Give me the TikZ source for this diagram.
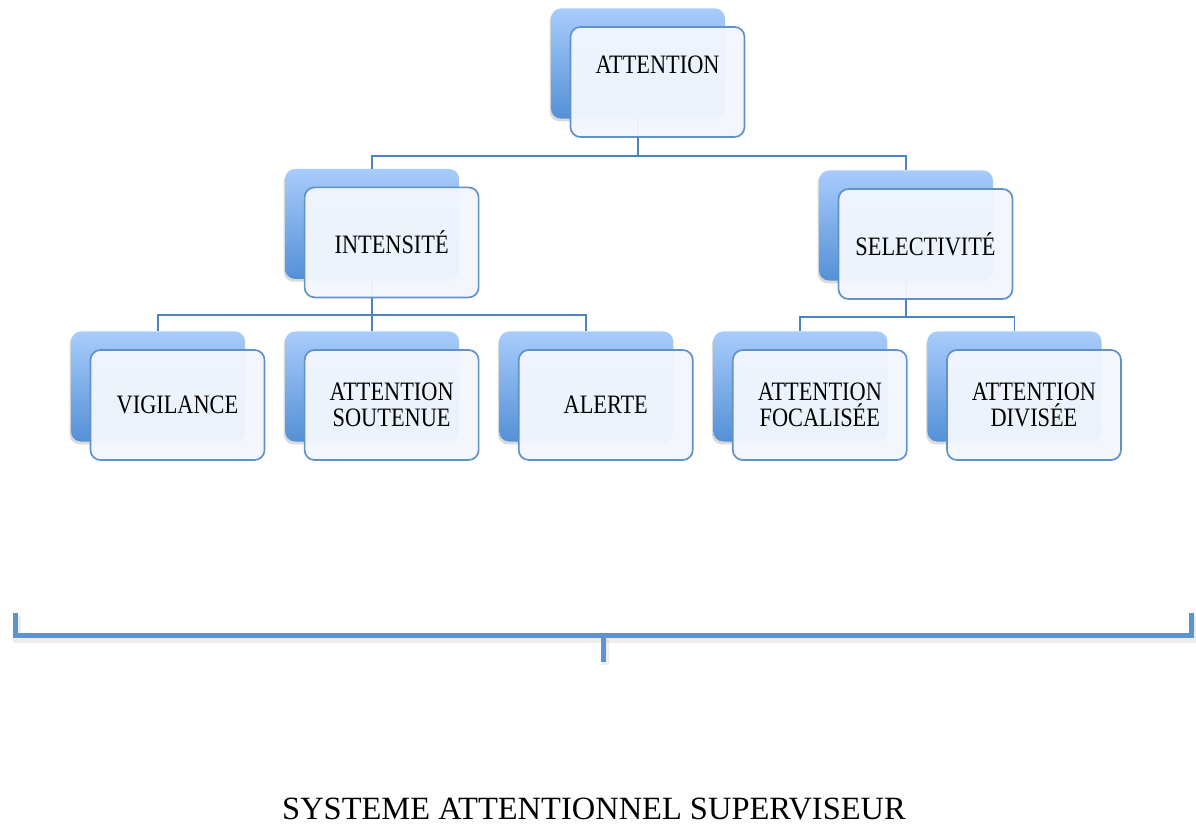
\documentclass[tikz,border=0pt]{standalone}
\usepackage{fontspec}
\setmainfont{Liberation Serif}
\newfontfamily\boxfont[FakeStretch=0.84]{Liberation Serif}
\usepackage{tikz}
\usetikzlibrary{positioning, shadows, calc}
\definecolor{bkTop}{RGB}{168,204,251}
\definecolor{bkBot}{RGB}{84,144,215}
\definecolor{frFill}{RGB}{242,246,253}
\definecolor{frLine}{RGB}{96,145,202}
\definecolor{cnLine}{RGB}{79,129,189}
\definecolor{brLine}{RGB}{95,147,207}
\tikzstyle{bk}=[%
      rectangle, rounded corners=0.25cm, draw=none, top color=bkTop, bottom color=bkBot,
      drop shadow={shadow xshift=-1pt, shadow yshift=-2pt, opacity=0.3},
      minimum width=4.35cm, minimum height=2.75cm, inner sep=0pt
]
\tikzstyle{fr}=[%
      rectangle, rounded corners=0.25cm, draw=frLine, line width=1.2pt, fill=frFill, fill opacity=0.96, text opacity=1,
      minimum width=4.35cm, minimum height=2.75cm, inner sep=0pt, align=center,
      font=\boxfont\fontsize{18.9}{18.2}\selectfont
]
\tikzstyle{cn}=[%
      draw=cnLine, line width=1.4pt
]
\tikzstyle{br}=[%
      draw=brLine, line width=3.5pt, line cap=butt, line join=miter
]

\begin{document}
\begin{tikzpicture}[x=0.025cm, y=-0.025cm, node distance=0.9875cm]
    \useasboundingbox (0,0) rectangle (1196,826);

    % back boxes
    \node[bk] (vigB) at (158,386.5) {};
    \node[bk] (souB) [right = of vigB] {};
    \node[bk] (aleB) [right = of souB] {};
    \node[bk] (focB) [right = of aleB] {};
    \node[bk] (divB) [right = of focB] {};
    \node[bk] (intB) [above = 1.3cm of souB] {};
    \node[bk] (selB) at (906,225.5) {};
    \node[bk] (attB) at (638,63.5) {};

    % connectors
    \draw[cn] (attB.south) -- ++(0,37) -| (intB.north);
    \draw[cn] (attB.south) -- ++(0,37) -| (selB.north);
    \draw[cn] (intB.south) -- ++(0,36) -| (vigB.north);
    \draw[cn] (intB.south) -- ++(0,36) -| (souB.north);
    \draw[cn] (intB.south) -- ++(0,36) -| (aleB.north);
    \draw[cn] (selB.south) -- ++(0,36) -| (focB.north);
    \draw[cn] (selB.south) -- ++(0,36) -| (divB.north);

    % front boxes
    \node[fr, text depth=0.875cm] (att) at ([shift={(19.5,18.5)}]attB) {ATTENTION};
    \node[fr] (int) at ([shift={(19.5,18.5)}]intB) {INTENSITÉ};
    \node[fr] (sel) at ([shift={(19.5,18.5)}]selB) {SELECTIVITÉ};
    \node[fr] (vig) at ([shift={(19.5,18.5)}]vigB) {VIGILANCE};
    \node[fr] (sou) at ([shift={(19.5,18.5)}]souB) {ATTENTION\\SOUTENUE};
    \node[fr] (ale) at ([shift={(19.5,18.5)}]aleB) {ALERTE};
    \node[fr] (foc) at ([shift={(19.5,18.5)}]focB) {ATTENTION\\FOCALISÉE};
    \node[fr] (div) at ([shift={(19.5,18.5)}]divB) {ATTENTION\\DIVISÉE};

    % bracket
    \draw[br, draw=black, opacity=0.07, line width=6pt] (17,616) -- (17,638.5) -- (1193,638.5) -- (1193,616);
    \draw[br, draw=black, opacity=0.07, line width=6pt] (605,638.5) -- (605,665);
    \draw[br] (15.5,613) -- (15.5,635.5) -- (1191.5,635.5) -- (1191.5,613);
    \draw[br] (603.5,635.5) -- (603.5,662);

    \node[font=\fontsize{23.1}{26}\selectfont, inner sep=0pt] (sas) at (594,809) {SYSTEME ATTENTIONNEL SUPERVISEUR};
\end{tikzpicture}
\end{document}
